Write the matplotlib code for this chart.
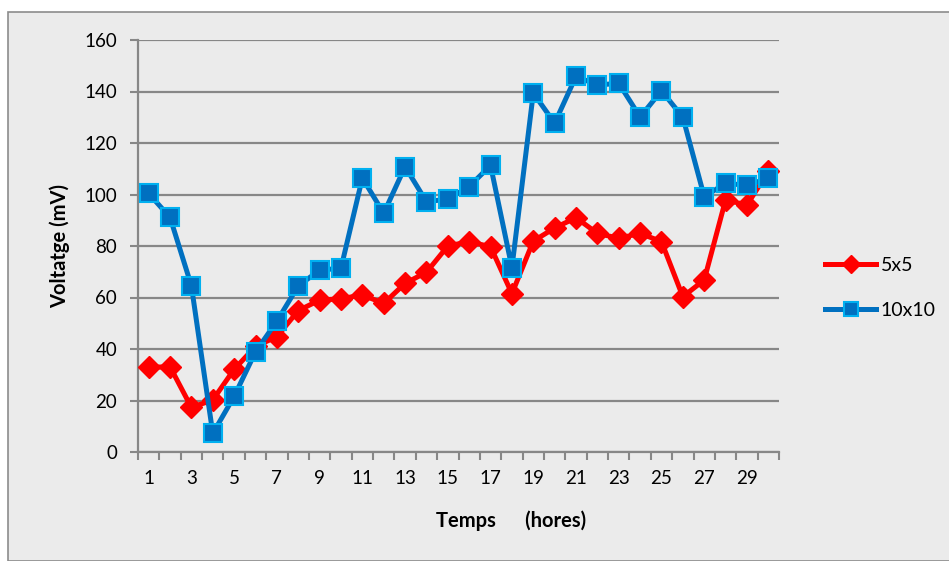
import matplotlib
matplotlib.use('Agg')
import matplotlib.pyplot as plt
from matplotlib.patches import Rectangle
from matplotlib.ticker import FixedLocator, NullFormatter

plt.rcParams['font.family'] = ['Lato', 'DejaVu Sans']

# hours 1..30
hours = list(range(1, 31))
v_5x5 = [32.9, 33.1, 17.3, 20.2, 32.1, 41.0, 44.8, 54.9, 59.0, 59.5,
         61.0, 57.7, 65.5, 69.8, 80.0, 81.7, 79.7, 61.5, 81.9, 87.0,
         91.0, 84.9, 83.0, 84.9, 81.7, 60.3, 66.8, 97.9, 95.9, 109.0]
v_10x10 = [100.4, 91.1, 64.5, 7.2, 21.6, 38.9, 50.8, 64.5, 70.6, 71.4,
           106.4, 92.7, 110.8, 97.2, 98.2, 103.1, 111.3, 71.6, 139.4, 127.7,
           145.9, 142.5, 143.2, 130.1, 140.3, 130.0, 99.2, 104.3, 103.6, 106.3]
y_ticks = [0, 20, 40, 60, 80, 100, 120, 140, 160]
x_labels = [1, 3, 5, 7, 9, 11, 13, 15, 17, 19, 21, 23, 25, 27, 29]

bg = '#EBEBEB'
grid_col = '#878787'

fig = plt.figure(figsize=(9.49, 5.61), dpi=100)
fig.patch.set_facecolor('white')
fig.patches.append(Rectangle((8 / 949, 0), 1, 1 - 12 / 561, transform=fig.transFigure,
                             facecolor=bg, edgecolor='#8C8C8C', linewidth=1.2, zorder=-10))

ax = fig.add_axes([138 / 949, 1 - 452 / 561, (779 - 138) / 949, (452 - 40) / 561])
ax.set_facecolor(bg)

ax.plot(hours, v_5x5, color='#FF0000', linewidth=3.6, marker='D', markersize=11,
        markerfacecolor='#FF0000', markeredgecolor='#FF0000', label='5x5', zorder=3)
ax.plot(hours, v_10x10, color='#0070C0', linewidth=3.6, marker='s', markersize=12.5,
        markerfacecolor='#0070C0', markeredgecolor='#00B0F0', markeredgewidth=1.5,
        label='10x10', zorder=4)

ax.set_xlim(0.5, 30.5)
ax.set_ylim(0, 160)
ax.set_yticks(y_ticks)
ax.yaxis.grid(True, color=grid_col, linewidth=1.6)
ax.set_axisbelow(True)

# tick marks on category boundaries, labels on odd hours
ax.xaxis.set_major_locator(FixedLocator([i + 0.5 for i in range(0, 31)]))
ax.xaxis.set_major_formatter(NullFormatter())
ax.xaxis.set_minor_locator(FixedLocator(x_labels))
ax.set_xticklabels([str(x) for x in x_labels], minor=True)
ax.tick_params(axis='x', which='major', length=6, width=1.5, color=grid_col, direction='out')
ax.tick_params(axis='x', which='minor', length=0, labelsize=13.5, pad=13)
ax.tick_params(axis='y', length=6, width=1.5, color=grid_col, labelsize=13.5, pad=9)

for s in ['top', 'right']:
    ax.spines[s].set_visible(False)
for s in ['left', 'bottom']:
    ax.spines[s].set_color(grid_col)
    ax.spines[s].set_linewidth(1.6)

ax.set_ylabel('Voltatge (mV)', fontsize=14.5, fontweight='bold', labelpad=10)
fig.text(511 / 949, 1 - 521 / 561, 'Temps      (hores)', fontsize=14.5, fontweight='bold',
         ha='center', va='center')

ax.legend(loc='center left', bbox_to_anchor=(1.045, 0.398), frameon=False, fontsize=14,
          handlelength=2.6, labelspacing=1.45, handletextpad=0.25, markerscale=0.8)

fig.savefig('out.png', dpi=100, facecolor=fig.get_facecolor())
